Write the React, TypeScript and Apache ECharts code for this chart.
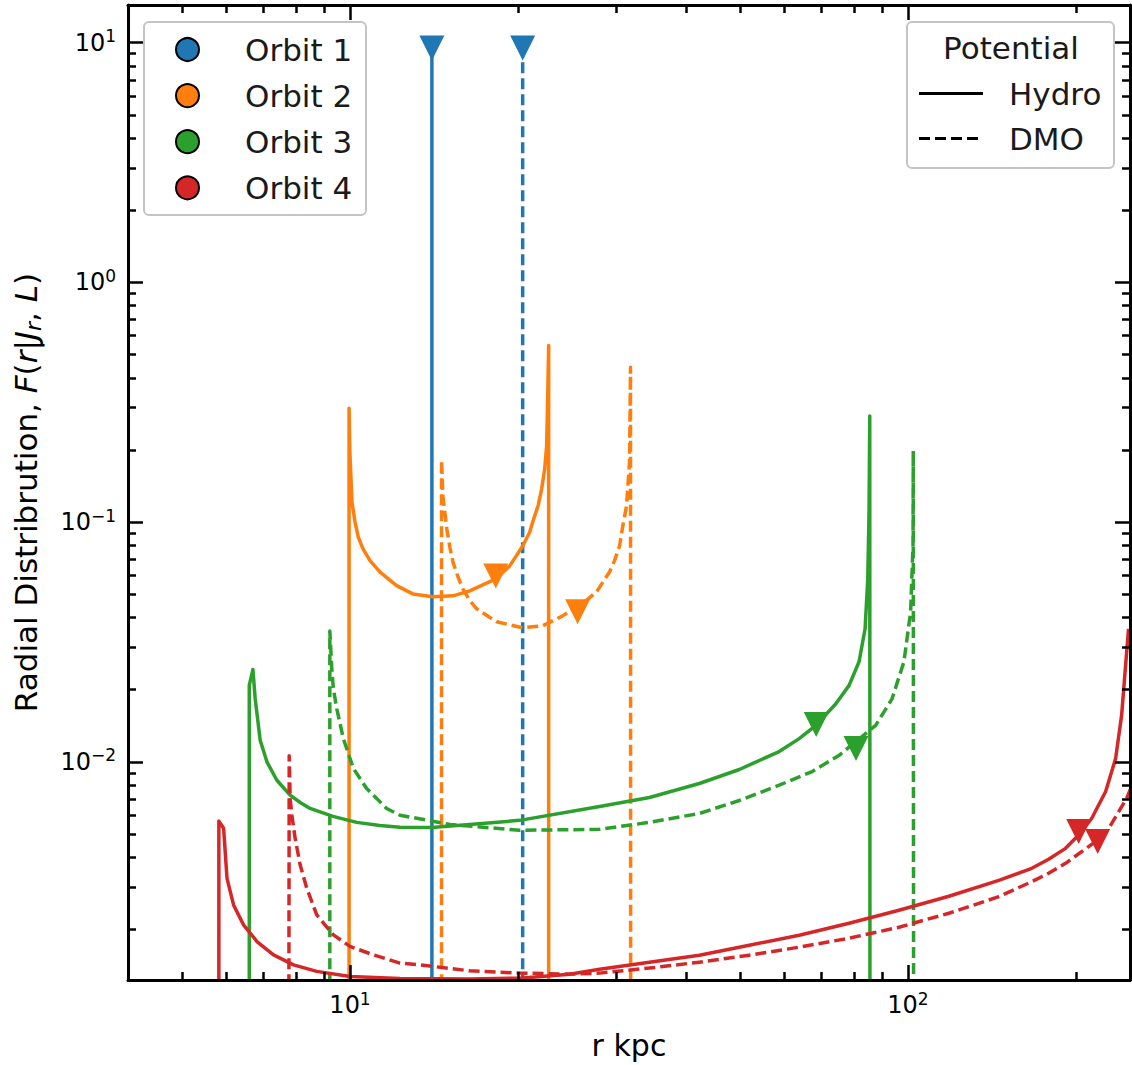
import React, { useEffect, useRef } from "react";
import * as echarts from "echarts";

// ---------- axis ranges & ticks (data units) ----------
const X_MIN = 4;
const X_MAX = 250;
const Y_MIN = 0.00123;
const Y_MAX = 14.36;

const xMajorTicks = [10, 100];
const xMajorExps = ["1", "2"];
const xMinorTicks = [5, 6, 7, 8, 9, 20, 30, 40, 50, 60, 70, 80, 90, 200];
const yMajorTicks = [0.01, 0.1, 1, 10];
const yMajorExps = ["\u22122", "\u22121", "0", "1"];
const yMinorTicks = [
  0.002, 0.003, 0.004, 0.005, 0.006, 0.007, 0.008, 0.009,
  0.02, 0.03, 0.04, 0.05, 0.06, 0.07, 0.08, 0.09,
  0.2, 0.3, 0.4, 0.5, 0.6, 0.7, 0.8, 0.9,
  2, 3, 4, 5, 6, 7, 8, 9,
];

const orbitNames = ["Orbit 1", "Orbit 2", "Orbit 3", "Orbit 4"];
const orbitColors = ["#1f77b4", "#ff7f0e", "#2ca02c", "#d62728"];
const potentialNames = ["Hydro", "DMO"];

// ---------- curves: [r (kpc), F] ----------
const orbit1Hydro = [[14.02, 1e-4], [14.02, 9.51]];
const orbit1Dmo = [[20.39, 1e-4], [20.39, 9.51]];

const orbit2Hydro = [
  [9.96, 1e-4], [9.96, 0.2985], [9.99, 0.2], [10.04, 0.1512], [10.08, 0.1209],
  [10.21, 0.1001], [10.35, 0.08643], [10.55, 0.07727], [10.86, 0.06907],
  [11.31, 0.06197], [11.71, 0.05795], [12.14, 0.0542], [12.96, 0.05018],
  [14.08, 0.04878], [15.29, 0.04925], [16.39, 0.05164], [18.25, 0.05795],
  [19.33, 0.06566], [19.87, 0.07245], [20.39, 0.07952], [20.99, 0.09069],
  [21.25, 0.1001], [21.73, 0.117], [22.05, 0.1373], [22.33, 0.1664],
  [22.51, 0.2074], [22.61, 0.3352], [22.7, 0.546], [22.7, 1e-4],
];
const orbit2Dmo = [
  [14.59, 1e-4], [14.59, 0.1814], [14.67, 0.1284], [14.91, 0.0936],
  [15.1, 0.07853], [15.29, 0.06823], [15.62, 0.05891], [15.93, 0.05266],
  [16.39, 0.04708], [16.87, 0.04347], [18.32, 0.03838], [20.39, 0.03623],
  [22.14, 0.03693], [24.05, 0.04064], [26.5, 0.04708], [27.66, 0.05117],
  [29.18, 0.06197], [29.79, 0.06907], [30.41, 0.07952], [30.83, 0.09661],
  [31.3, 0.1167], [31.69, 0.1781], [31.82, 0.4426], [31.85, 1e-4],
];

const orbit3Hydro = [
  [6.598, 1e-4], [6.598, 0.02084], [6.698, 0.02429], [6.761, 0.01834],
  [6.902, 0.0123], [7.096, 0.01], [7.394, 0.00838], [7.809, 0.00726],
  [8.141, 0.006769], [8.481, 0.00639], [8.837, 0.00618], [9.323, 0.00592],
  [10.28, 0.00559], [11.31, 0.00543], [12.29, 0.00534], [14.02, 0.00532],
  [20.14, 0.0057], [28.01, 0.00651], [34.41, 0.0071], [42.28, 0.00812],
  [49.86, 0.00929], [58.77, 0.01104], [63.83, 0.0125], [68.39, 0.0142],
  [74.26, 0.01748], [78.43, 0.02084], [81.72, 0.02616], [83.78, 0.03589],
  [84.71, 0.05795], [85.16, 0.1102], [85.41, 0.2773], [85.51, 1e-4],
];
const orbit3Dmo = [
  [9.2, 1e-4], [9.2, 0.0351], [9.275, 0.02445], [9.335, 0.02019],
  [9.467, 0.01667], [9.728, 0.0125], [10.14, 0.00938], [10.71, 0.00774],
  [11.63, 0.00639], [12.29, 0.00599], [15.1, 0.00548], [20.14, 0.00518],
  [28.01, 0.00523], [34.41, 0.00559], [42.28, 0.00609], [49.86, 0.0069],
  [58.77, 0.00799], [67.35, 0.00911], [75.28, 0.01065], [80.63, 0.01215],
  [87.52, 0.0142], [93.63, 0.01831], [98.35, 0.02616], [101.1, 0.04223],
  [102.1, 0.07971], [102.2, 0.1983], [102.4, 1e-4],
];

const orbit4Hydro = [
  [5.82, 1e-4], [5.82, 0.00566], [5.935, 0.00528], [6.019, 0.003267],
  [6.184, 0.00253], [6.444, 0.002088], [6.81, 0.00178], [7.292, 0.001566],
  [7.919, 0.001423], [8.717, 0.001336], [10.0, 0.001273], [12.29, 0.001249],
  [16.39, 0.001242], [20.14, 0.001252], [24.75, 0.0013], [28.01, 0.001365],
  [34.41, 0.00146], [42.28, 0.001561], [51.94, 0.001718], [63.83, 0.001891],
  [78.43, 0.002122], [96.36, 0.002404], [118.4, 0.002749], [145.5, 0.003205],
  [166.7, 0.003596], [178.7, 0.00392], [191.6, 0.004356], [202.3, 0.00495],
  [213.4, 0.0058], [226.1, 0.00752], [235.6, 0.01032], [241.5, 0.01563],
  [245.5, 0.02525], [248.5, 0.03589],
];
const orbit4Dmo = [
  [7.76, 1e-4], [7.78, 0.01059], [7.811, 0.007035], [7.866, 0.005991],
  [7.974, 0.004793], [8.141, 0.003712], [8.365, 0.002969], [8.717, 0.002298],
  [9.335, 0.001897], [10.0, 0.001698], [11.01, 0.001566], [12.29, 0.001446],
  [13.34, 0.001423], [16.39, 0.001343], [20.14, 0.001314], [24.75, 0.001302],
  [28.01, 0.001314], [34.41, 0.001379], [42.28, 0.00146], [51.94, 0.001561],
  [63.83, 0.001686], [78.43, 0.001838], [96.36, 0.002042], [118.4, 0.002335],
  [145.5, 0.00274], [166.7, 0.003164], [178.7, 0.003428], [191.6, 0.003772],
  [204.8, 0.00422], [218.8, 0.004717], [229.0, 0.005278], [238.6, 0.006193],
  [246.6, 0.007035], [252.8, 0.008123],
];

// direction markers (downward triangles)
const hydroMarkers = [[14.02, 9.51], [18.25, 0.05965], [68.47, 0.0143], [202.3, 0.005126]];
const dmoMarkers = [[20.39, 9.51], [25.58, 0.04223], [80.7, 0.01136], [218.8, 0.004657]];

const hydroCurves = [orbit1Hydro, orbit2Hydro, orbit3Hydro, orbit4Hydro];
const dmoCurves = [orbit1Dmo, orbit2Dmo, orbit3Dmo, orbit4Dmo];

const FONT = '"DejaVu Sans", "Liberation Sans", sans-serif';

export default function App() {
  const ref = useRef<HTMLDivElement>(null);

  useEffect(() => {
    if (!ref.current) return;
    const chart = echarts.init(ref.current, null, { renderer: "svg" });
    const lg = (v: number) => Math.log10(v);
    const toLog = (pts: number[][]) => pts.map((p) => [lg(p[0]), lg(p[1])]);

    const tickLine = { color: "#000", width: 2.5 };
    const frameLine = { show: true, onZero: false, lineStyle: { color: "#000", width: 3 } };
    const hidden = {
      z: 20,
      splitLine: { show: false },
      axisLine: { show: false, onZero: false },
      axisLabel: { show: false },
    };
    const labelRich = {
      b: { fontSize: 24, fontFamily: FONT, color: "#000", lineHeight: 30 },
      s: { fontSize: 17, fontFamily: FONT, color: "#000", verticalAlign: "top" },
    };

    const xCommon = { type: "value", min: lg(X_MIN), max: lg(X_MAX), gridIndex: 0 };
    const yCommon = { type: "value", min: lg(Y_MIN), max: lg(Y_MAX), gridIndex: 0 };

    const xMajorVals = xMajorTicks.map(lg);
    const xMinorVals = xMinorTicks.map(lg);
    const yMajorVals = yMajorTicks.map(lg);
    const yMinorVals = yMinorTicks.map(lg);

    const fmt = (vals: number[], exps: string[]) => (v: number) => {
      let idx = 0;
      let best = Infinity;
      vals.forEach((t, i) => {
        const d = Math.abs(t - v);
        if (d < best) { best = d; idx = i; }
      });
      return `{b|10}{s|${exps[idx]}}`;
    };

    const xAxis = [
      {
        ...xCommon, ...hidden, position: "bottom",
        axisLine: frameLine,
        axisTick: { show: true, inside: true, length: 15, lineStyle: tickLine, customValues: xMajorVals },
        axisLabel: {
          show: true, customValues: xMajorVals, margin: 10,
          formatter: fmt(xMajorVals, xMajorExps), rich: labelRich,
        },
        name: "r kpc", nameLocation: "middle", nameGap: 50,
        nameTextStyle: { fontSize: 30, fontFamily: FONT, color: "#000" },
      },
      {
        ...xCommon, ...hidden, position: "bottom",
        axisTick: { show: true, inside: true, length: 8, lineStyle: tickLine, customValues: xMinorVals },
      },
      {
        ...xCommon, ...hidden, position: "top",
        axisLine: frameLine,
        axisTick: { show: true, inside: true, length: 15, lineStyle: tickLine, customValues: xMajorVals },
      },
      {
        ...xCommon, ...hidden, position: "top",
        axisTick: { show: true, inside: true, length: 8, lineStyle: tickLine, customValues: xMinorVals },
      },
    ];

    const yAxis = [
      {
        ...yCommon, ...hidden, position: "left",
        axisLine: frameLine,
        axisTick: { show: true, inside: true, length: 15, lineStyle: tickLine, customValues: yMajorVals },
        axisLabel: {
          show: true, customValues: yMajorVals, margin: 12,
          formatter: fmt(yMajorVals, yMajorExps), rich: labelRich,
        },
        name: "Radial Distribrution, {i|F}({i|r}|{i|J}{sub|r}, {i|L})",
        nameLocation: "middle", nameGap: 84, nameRotate: 90,
        nameTextStyle: {
          fontSize: 31, fontFamily: FONT, color: "#000", lineHeight: 36,
          rich: {
            i: { fontSize: 31, fontFamily: FONT, fontStyle: "italic", color: "#000", lineHeight: 36 },
            sub: { fontSize: 22, fontFamily: FONT, fontStyle: "italic", color: "#000", verticalAlign: "bottom" },
          },
        },
      },
      {
        ...yCommon, ...hidden, position: "left",
        axisTick: { show: true, inside: true, length: 8, lineStyle: tickLine, customValues: yMinorVals },
      },
      {
        ...yCommon, ...hidden, position: "right",
        axisLine: frameLine,
        axisTick: { show: true, inside: true, length: 15, lineStyle: tickLine, customValues: yMajorVals },
      },
      {
        ...yCommon, ...hidden, position: "right",
        axisTick: { show: true, inside: true, length: 8, lineStyle: tickLine, customValues: yMinorVals },
      },
    ];

    const LW = 3.5;
    const series: any[] = [];
    for (let i = 0; i < 4; i++) {
      series.push({
        type: "line", xAxisIndex: 0, yAxisIndex: 0, data: toLog(hydroCurves[i]),
        showSymbol: false, symbol: "none", clip: true, silent: true, z: 2 + i,
        lineStyle: { color: orbitColors[i], width: LW, type: "solid", join: "round" },
      });
      series.push({
        type: "line", xAxisIndex: 0, yAxisIndex: 0, data: toLog(dmoCurves[i]),
        showSymbol: false, symbol: "none", clip: true, silent: true, z: 2 + i,
        lineStyle: { color: orbitColors[i], width: LW, type: [11, 5], join: "round" },
      });
    }
    series.push({
      type: "scatter", xAxisIndex: 0, yAxisIndex: 0, silent: true, z: 10,
      symbol: "triangle", symbolRotate: 180, symbolSize: 25,
      data: [...hydroMarkers, ...dmoMarkers].map((p, k) => ({
        value: [lg(p[0]), lg(p[1])],
        itemStyle: { color: orbitColors[k % 4], opacity: 1 },
      })),
      itemStyle: { opacity: 1 },
    });

    const graphic: any[] = [];
    // Orbit legend
    graphic.push({
      type: "rect", z: 100,
      shape: { x: 144, y: 22, width: 222, height: 193, r: 5 },
      style: { fill: "rgba(255,255,255,0.85)", stroke: "#c4c4c4", lineWidth: 2 },
    });
    orbitNames.forEach((name, i) => {
      const cy = 49.5 + i * 46.1;
      graphic.push({
        type: "circle", z: 101, shape: { cx: 187.5, cy, r: 11.5 },
        style: { fill: orbitColors[i], stroke: "#000", lineWidth: 2 },
      });
      graphic.push({
        type: "text", z: 101, x: 245, y: cy,
        style: { text: name, fontSize: 31, fontFamily: FONT, fill: "#1a1a1a", align: "left", verticalAlign: "middle" },
      });
    });
    // Potential legend
    graphic.push({
      type: "rect", z: 100,
      shape: { x: 907, y: 22, width: 207, height: 146, r: 5 },
      style: { fill: "rgba(255,255,255,0.85)", stroke: "#c4c4c4", lineWidth: 2 },
    });
    graphic.push({
      type: "text", z: 101, x: 1011, y: 48,
      style: { text: "Potential", fontSize: 31, fontFamily: FONT, fill: "#1a1a1a", align: "center", verticalAlign: "middle" },
    });
    potentialNames.forEach((name, i) => {
      const cy = 93.5 + i * 45;
      graphic.push({
        type: "line", z: 101, shape: { x1: 919, y1: cy, x2: 983, y2: cy },
        style: { stroke: "#000", lineWidth: 3, lineDash: i === 0 ? null : [11, 5] },
      });
      graphic.push({
        type: "text", z: 101, x: 1009, y: cy,
        style: { text: name, fontSize: 31, fontFamily: FONT, fill: "#1a1a1a", align: "left", verticalAlign: "middle" },
      });
    });

    chart.setOption({
      animation: false,
      backgroundColor: "#fff",
      grid: { left: 128, top: 5, right: 2, bottom: 83, containLabel: false },
      xAxis, yAxis, series, graphic,
    });

    return () => chart.dispose();
  }, []);

  return (
    <div
      ref={ref}
      style={{ position: "fixed", left: 0, top: 0, width: 1132, height: 1065, background: "#fff" }}
    />
  );
}
